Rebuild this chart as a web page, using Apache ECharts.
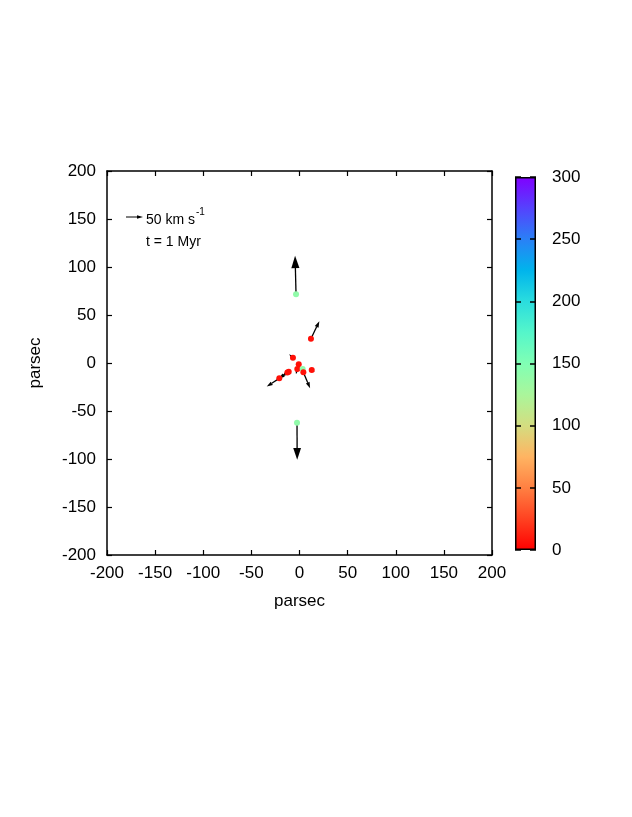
<!DOCTYPE html>
<html>
<head>
<meta charset="utf-8">
<script src="https://cdn.jsdelivr.net/npm/echarts@6/dist/echarts.min.js"></script>
<style>
  html, body { margin: 0; padding: 0; background: #fff; }
  #chart { width: 632px; height: 817px; }
</style>
</head>
<body>
<div id="chart"></div>
<script>
// star positions (parsec), velocity arrows (drawn in parsec) and colour value
const posX = [-3.6, -2.6, 11.9, -6.8, -0.8, -2.3, 3.3, 4.0, 12.7, -11.2, -12.6, -21.0];
const posY = [71.7, -62.3, 25.2, 5.5, -1.4, -6.2, -6.2, -9.7, -7.3, -9.0, -9.8, -16.0];
const velX = [-1.0, 0.2, 8.7, -4.0, -2.8, -1.5, 0, 7.0, 3.0, -7.0, -9.0, -13.0];
const velY = [40.0, -38.5, 18.4, 3.5, -10.0, -5.0, 0, -16.5, -2.0, -5.0, -6.5, -8.6];
const colorVal = [140, 140, 6, 6, 6, 6, 140, 6, 6, 6, 6, 6];

const axisTicks = [-200, -150, -100, -50, 0, 50, 100, 150, 200];
const cbTicks = [0, 50, 100, 150, 200, 250, 300];
// colour bar palette, from 0 up to 300
const palette = ['#ff0000', '#ff4221', '#ff8042', '#ffb462', '#d4dd80', '#aaf69b',
  '#80ffb4', '#55f6ca', '#2addde', '#00b4ec', '#2a80f6', '#5542fd', '#8000ff'];

const FONT = "'Liberation Sans', Arial, sans-serif";
const chart = echarts.init(document.getElementById('chart'));

const points = posX.map((x, i) => [x, posY[i], colorVal[i]]);
const arrows = posX.map((x, i) => [x, posY[i], velX[i], velY[i]]);

const stops = palette.map((c, i) => ({ offset: 1 - i / (palette.length - 1), color: c }));

const frameAxis = (pos, show, extra) => Object.assign({
  type: 'value', min: -200, max: 200, interval: 50, position: pos,
  axisLine: { show: true, onZero: false, lineStyle: { color: '#000', width: 1.5 } },
  axisTick: { show: true, inside: true, length: 5, lineStyle: { color: '#000', width: 1.2 } },
  axisLabel: { show: show, color: '#000', fontSize: 17, fontFamily: FONT, margin: 10 },
  splitLine: { show: false }
}, extra || {});

function renderArrow(params, api) {
  const x = api.value(0), y = api.value(1), dx = api.value(2), dy = api.value(3);
  const p0 = api.coord([x, y]);
  const p1 = api.coord([x + dx, y + dy]);
  const ddx = p1[0] - p0[0], ddy = p1[1] - p0[1];
  const len = Math.hypot(ddx, ddy);
  if (len < 0.5) return null;
  const ux = ddx / len, uy = ddy / len;
  const hl = Math.min(len, Math.max(6, 0.32 * len));
  const hw = hl * 0.33;
  const bx = p1[0] - ux * hl, by = p1[1] - uy * hl;
  return {
    type: 'group',
    children: [
      { type: 'line', shape: { x1: p0[0], y1: p0[1], x2: bx, y2: by },
        style: { stroke: '#000', lineWidth: 1.3 } },
      { type: 'polygon',
        shape: { points: [[p1[0], p1[1]], [bx - uy * hw, by + ux * hw], [bx + uy * hw, by - ux * hw]] },
        style: { fill: '#000' } }
    ]
  };
}

const cbAxis = (pos, show) => ({
  type: 'value', gridIndex: 1, min: 0, max: 300, interval: 50, position: pos, z: 10,
  axisLine: { show: false },
  axisTick: { show: true, inside: true, length: 6, lineStyle: { color: '#000', width: 1.5 } },
  axisLabel: { show: show, color: '#000', fontSize: 17, fontFamily: FONT, margin: 16 },
  splitLine: { show: false }
});

chart.setOption({
  animation: false,
  backgroundColor: '#fff',
  grid: [
    { left: 107, top: 171, width: 385, height: 384 },
    { left: 515, top: 177, width: 21, height: 373 }
  ],
  xAxis: [
    frameAxis('bottom', true, { gridIndex: 0, name: 'parsec', nameLocation: 'middle', nameGap: 38,
      nameTextStyle: { color: '#000', fontSize: 17, fontFamily: FONT } }),
    frameAxis('top', false, { gridIndex: 0 }),
    { type: 'category', gridIndex: 1, data: ['c'], show: false }
  ],
  yAxis: [
    frameAxis('left', true, { gridIndex: 0, name: 'parsec', nameLocation: 'middle', nameGap: 63,
      nameRotate: 90, nameTextStyle: { color: '#000', fontSize: 17, fontFamily: FONT },
      axisLabel: { color: '#000', fontSize: 17, fontFamily: FONT, margin: 11 } }),
    frameAxis('right', false, { gridIndex: 0 }),
    cbAxis('left', false),
    cbAxis('right', true)
  ],
  visualMap: {
    show: false, type: 'continuous', seriesIndex: 1, dimension: 2,
    min: 0, max: 300, inRange: { color: palette }
  },
  graphic: [
    { type: 'line', shape: { x1: 126, y1: 217, x2: 137, y2: 217 }, style: { stroke: '#000', lineWidth: 1 } },
    { type: 'polygon', shape: { points: [[143, 217], [137, 215.2], [137, 218.8]] }, style: { fill: '#000' } },
    { type: 'text', left: 146, top: 207, style: {
      text: '{n|50 km s}{s|-1}', fill: '#000', font: '14px ' + FONT,
      rich: { n: { fontSize: 14, fontFamily: FONT, padding: [6, 0, 0, 0] },
              s: { fontSize: 10, fontFamily: FONT, verticalAlign: 'top', padding: [0, 0, 8, 1] } } } },
    { type: 'text', left: 146, top: 235, style: { text: 't = 1 Myr', fill: '#000', font: '14px ' + FONT } }
  ],
  series: [
    { type: 'custom', xAxisIndex: 0, yAxisIndex: 0, renderItem: renderArrow, data: arrows, z: 2,
      encode: { x: 0, y: 1 } },
    { type: 'scatter', xAxisIndex: 0, yAxisIndex: 0, data: points, symbolSize: 6, z: 3,
      itemStyle: { opacity: 1 } },
    { type: 'bar', xAxisIndex: 2, yAxisIndex: 2, data: [300], barWidth: '100%', silent: true, z: 1,
      itemStyle: { color: new echarts.graphic.LinearGradient(0, 0, 0, 1, stops),
                   borderColor: '#000', borderWidth: 1.5 } }
  ]
});
</script>
</body>
</html>
